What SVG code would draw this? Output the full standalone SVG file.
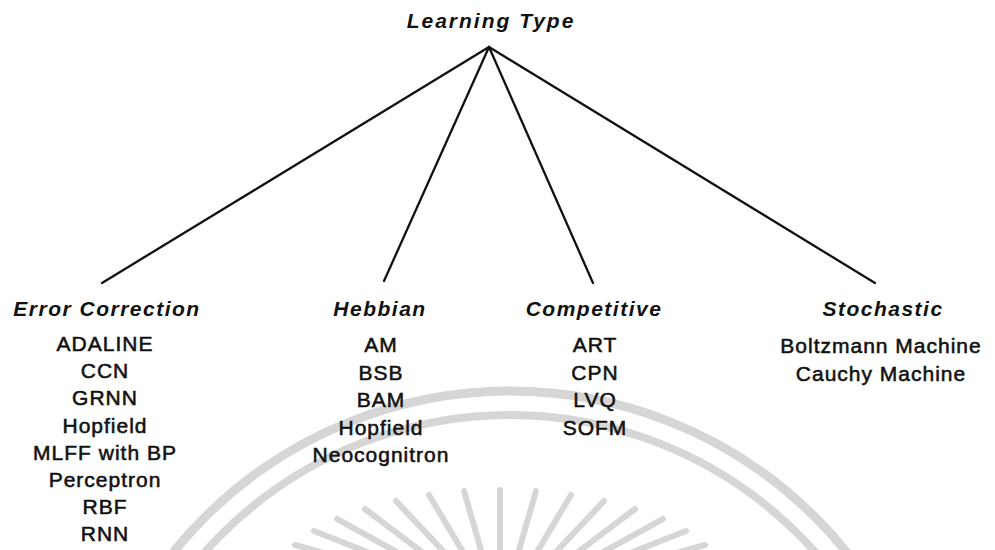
<svg xmlns="http://www.w3.org/2000/svg" width="995" height="550" viewBox="0 0 995 550">
<style>
.t{font-family:"Liberation Sans",Arial,Helvetica,sans-serif;fill:#111;text-anchor:middle}
.title{font-size:21px;font-weight:bold;font-style:italic;letter-spacing:2px}
.cat{font-size:21px;font-weight:bold;font-style:italic;letter-spacing:1.5px}
.item{font-size:21px;letter-spacing:1px;stroke:#111;stroke-width:0.55}
.edge{stroke:#111;stroke-width:2.3;fill:none;stroke-linecap:round}
.wm{stroke:#d6d6d6;fill:none;stroke-linecap:round}
</style>
<rect width="995" height="550" fill="#ffffff"/>
<g id="watermark" class="wm">
<circle cx="510" cy="823" r="432" stroke-width="9"/>
<circle cx="510" cy="823" r="408" stroke-width="8"/>
<g stroke-width="6">
<line x1="500" y1="490" x2="500" y2="550"/>
<line x1="464" y1="491" x2="481" y2="550"/>
<line x1="536" y1="491" x2="519" y2="550"/>
<line x1="429" y1="495" x2="463" y2="552"/>
<line x1="571" y1="495" x2="537" y2="552"/>
<line x1="396" y1="501" x2="446" y2="554"/>
<line x1="604" y1="501" x2="554" y2="554"/>
<line x1="365" y1="509" x2="430" y2="558"/>
<line x1="635" y1="509" x2="570" y2="558"/>
<line x1="337" y1="519" x2="415" y2="562"/>
<line x1="663" y1="519" x2="585" y2="562"/>
<line x1="314" y1="531" x2="403" y2="566"/>
<line x1="686" y1="531" x2="597" y2="566"/>
<line x1="295" y1="545" x2="393" y2="572"/>
<line x1="705" y1="545" x2="607" y2="572"/>
</g>
</g>
<g id="connectors">
<line class="edge" x1="489" y1="47" x2="102" y2="283"/>
<line class="edge" x1="489" y1="47" x2="384" y2="281"/>
<line class="edge" x1="489" y1="47" x2="593" y2="283"/>
<line class="edge" x1="489" y1="47" x2="875" y2="283"/>
</g>
<g id="root">
<text class="t title" x="491" y="28">Learning Type</text>
</g>
<g id="error-correction">
<text class="t cat" x="107" y="316">Error Correction</text>
<text class="t item" y="351"><tspan x="105">ADALINE</tspan><tspan x="105" dy="27.2">CCN</tspan><tspan x="105" dy="27.2">GRNN</tspan><tspan x="105" dy="27.2">Hopfield</tspan><tspan x="105" dy="27.2">MLFF with BP</tspan><tspan x="105" dy="27.2">Perceptron</tspan><tspan x="105" dy="27.2">RBF</tspan><tspan x="105" dy="27.2">RNN</tspan></text>
</g>
<g id="hebbian">
<text class="t cat" x="380" y="316">Hebbian</text>
<text class="t item" y="352"><tspan x="381">AM</tspan><tspan x="381" dy="27.6">BSB</tspan><tspan x="381" dy="27.6">BAM</tspan><tspan x="381" dy="27.6">Hopfield</tspan><tspan x="381" dy="27.6">Neocognitron</tspan></text>
</g>
<g id="competitive">
<text class="t cat" x="594" y="316">Competitive</text>
<text class="t item" y="352"><tspan x="595">ART</tspan><tspan x="595" dy="27.6">CPN</tspan><tspan x="595" dy="27.6">LVQ</tspan><tspan x="595" dy="27.6">SOFM</tspan></text>
</g>
<g id="stochastic">
<text class="t cat" x="883" y="316">Stochastic</text>
<text class="t item" y="353"><tspan x="881">Boltzmann Machine</tspan><tspan x="881" dy="27.6">Cauchy Machine</tspan></text>
</g>
</svg>
